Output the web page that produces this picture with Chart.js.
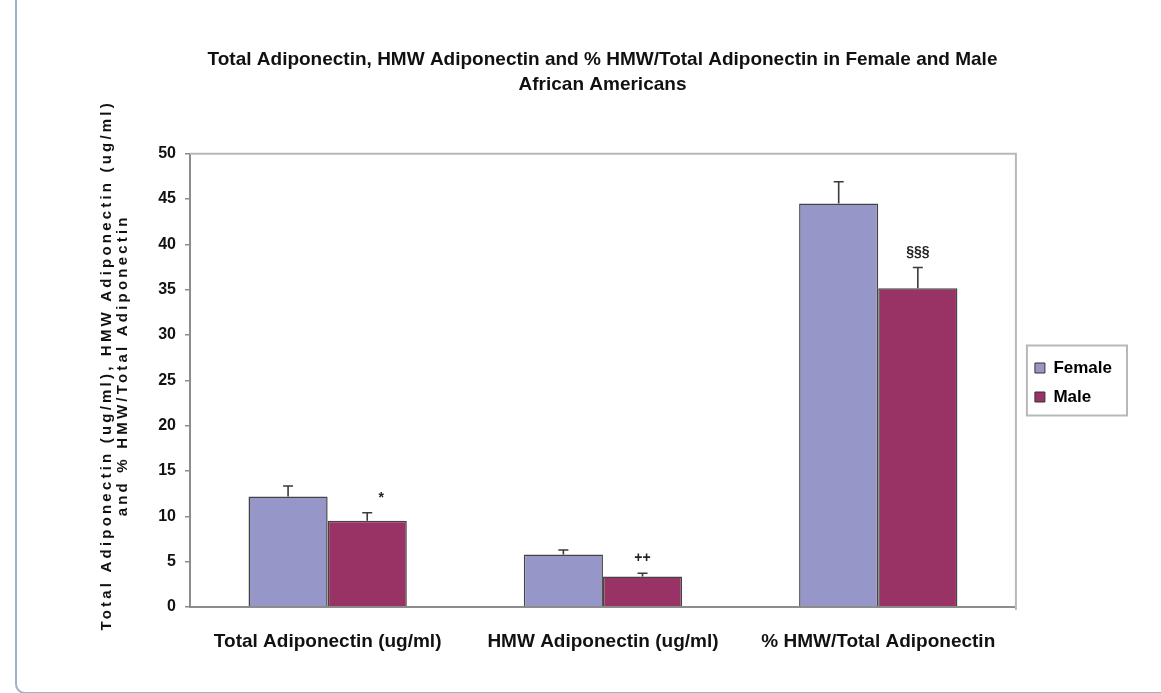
<!DOCTYPE html>
<html>
<head>
<meta charset="utf-8">
<script src="https://cdn.jsdelivr.net/npm/chart.js@4.4.1/dist/chart.umd.min.js"></script>
<style>
  html, body { margin: 0; padding: 0; background: #ffffff; }
  body { width: 1161px; height: 693px; position: relative; overflow: hidden; }
  #frame { position: absolute; left: 15px; top: -20px; width: 1300px; height: 714px;
           border-left: 2px solid #9fb2c2; border-bottom: 2px solid #9fb2c2;
           border-bottom-left-radius: 10px; box-sizing: border-box; }
  #wrap { position: absolute; left: 0; top: 0; width: 1161px; height: 693px; }
</style>
</head>
<body>
<div id="frame"></div>
<div id="wrap"><canvas id="c" width="1161" height="693"></canvas></div>
<script>
const titleLines = ['Total Adiponectin, HMW Adiponectin and % HMW/Total Adiponectin in Female and Male', 'African Americans'];
const yTitleLines = ['Total Adiponectin (ug/ml), HMW Adiponectin (ug/ml)', 'and % HMW/Total Adiponectin'];
const categories = ['Total Adiponectin (ug/ml)', 'HMW Adiponectin (ug/ml)', '% HMW/Total Adiponectin'];
const seriesNames = ['Female', 'Male'];
const femaleValues = [12.2, 5.8, 44.5];
const maleValues = [9.5, 3.35, 35.15];
const femaleErrors = [1.15, 0.48, 2.4];
const maleErrors = [0.9, 0.37, 2.3];
const femaleMarks = ['', '', ''];
const maleMarks = ['*', '++', '§§§'];
const yTicks = [0, 5, 10, 15, 20, 25, 30, 35, 40, 45, 50];

const FONT = "'Liberation Sans', Arial, sans-serif";
const errorsBySeries = [femaleErrors, maleErrors];
const marksBySeries = [femaleMarks, maleMarks];

const extrasPlugin = {
  id: 'extras',
  afterUpdate(chart) {
    const lg = chart.legend;
    if (lg) {
      const dx = 7, dy = 31;
      lg.left += dx; lg.right += dx; lg.top += dy; lg.bottom += dy;
      (lg.legendHitBoxes || []).forEach(h => { h.left += dx; h.top += dy; });
    }
  },
  beforeDraw(chart) {
    const s = chart.scales.y;
    if (s && !s._spaced) {
      const orig = s.drawTitle.bind(s);
      s.drawTitle = function () {
        const ctx = chart.ctx;
        ctx.save();
        ctx.letterSpacing = '3.2px';
        ctx.translate(0, -15);
        orig();
        ctx.restore();
      };
      s._spaced = true;
    }
  },
  afterDraw(chart) {
    const ctx = chart.ctx;
    const a = chart.chartArea;
    const y = chart.scales.y;
    ctx.save();
    ctx.strokeStyle = '#b8b8b8';
    ctx.lineWidth = 2;
    ctx.beginPath();
    ctx.moveTo(a.left, a.top);
    ctx.lineTo(a.right, a.top);
    ctx.lineTo(a.right, a.bottom + 3);
    ctx.stroke();
    chart.data.datasets.forEach((ds, di) => {
      const meta = chart.getDatasetMeta(di);
      meta.data.forEach((bar, i) => {
        const v = ds.data[i];
        const e = errorsBySeries[di][i];
        const yTop = y.getPixelForValue(v + e);
        const yBase = y.getPixelForValue(v);
        ctx.strokeStyle = '#3a3a3a';
        ctx.lineWidth = 1.6;
        ctx.beginPath();
        ctx.moveTo(bar.x, yBase);
        ctx.lineTo(bar.x, yTop);
        ctx.moveTo(bar.x - 5, yTop);
        ctx.lineTo(bar.x + 5, yTop);
        ctx.stroke();
        const m = marksBySeries[di][i];
        if (m) {
          ctx.fillStyle = '#222';
          ctx.font = 'bold 14px ' + FONT;
          ctx.textAlign = 'center';
          ctx.textBaseline = 'middle';
          ctx.fillText(m, bar.x + (m === '*' ? 14 : 0), yTop - 15);
        }
      });
    });
    const lg = chart.legend;
    if (lg && lg.legendHitBoxes && lg.legendHitBoxes.length) {
      const hb = lg.legendHitBoxes;
      let l = Infinity, t = Infinity, r = -Infinity, b = -Infinity;
      hb.forEach(h => { l = Math.min(l, h.left); t = Math.min(t, h.top); r = Math.max(r, h.left + h.width); b = Math.max(b, h.top + h.height); });
      ctx.strokeStyle = '#b8b8b8';
      ctx.lineWidth = 2;
      ctx.strokeRect(l - 8, t - 14, (r - l) + 23, (b - t) + 24);
    }
    ctx.restore();
  }
};

new Chart(document.getElementById('c'), {
  type: 'bar',
  data: {
    labels: categories,
    datasets: [
      { label: seriesNames[0], data: femaleValues, backgroundColor: '#9696c9', borderColor: '#444', borderWidth: 1.5 },
      { label: seriesNames[1], data: maleValues, backgroundColor: '#993366', borderColor: '#444', borderWidth: 1.5 }
    ]
  },
  options: {
    responsive: false,
    animation: false,
    devicePixelRatio: 1,
    layout: { padding: { left: 90, right: 46, top: 20, bottom: 10 } },
    datasets: { bar: { categoryPercentage: 0.575, barPercentage: 1.0 } },
    plugins: {
      title: {
        display: true,
        text: titleLines,
        color: '#111',
        font: { family: FONT, size: 19, weight: 'bold', lineHeight: 1.28 },
        padding: { top: 28, bottom: 57 }
      },
      legend: {
        position: 'right',
        labels: {
          color: '#111',
          font: { family: FONT, size: 17, weight: 'bold' },
          boxWidth: 10, boxHeight: 10, padding: 12,
          generateLabels(chart) {
            return chart.data.datasets.map((d, i) => ({
              text: d.label, fillStyle: d.backgroundColor, strokeStyle: '#333', lineWidth: 1, datasetIndex: i, hidden: false
            }));
          }
        }
      },
      tooltip: { enabled: false }
    },
    scales: {
      x: {
        grid: { display: false },
        border: { display: true, color: '#8c8c8c', width: 2 },
        ticks: { color: '#111', font: { family: FONT, size: 19, weight: 'bold' }, padding: 15, maxRotation: 0, autoSkip: false },
        afterFit(s) { s.height = 693 - 10 - 607; }
      },
      y: {
        min: 0, max: 50,
        afterBuildTicks(s) { s.ticks = yTicks.map(v => ({ value: v })); },
        grid: { display: true, drawOnChartArea: false, drawTicks: true, tickLength: 5, color: '#8c8c8c', lineWidth: 1.5 },
        border: { display: true, color: '#8c8c8c', width: 2 },
        ticks: { color: '#111', font: { family: FONT, size: 16, weight: 'bold' }, padding: 9 },
        title: {
          display: true,
          text: yTitleLines,
          color: '#111',
          font: { family: FONT, size: 15, weight: 'bold', lineHeight: 1.12 },
          padding: { top: 8, bottom: 0 }
        },
        afterFit(s) { s.width = 190 - 90; }
      }
    }
  },
  plugins: [extrasPlugin]
});
</script>
</body>
</html>
